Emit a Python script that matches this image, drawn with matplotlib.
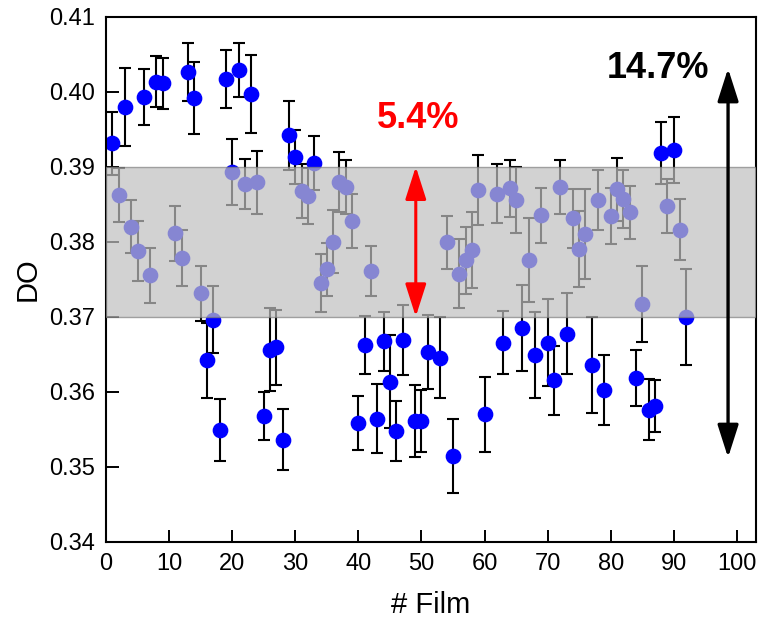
import matplotlib
matplotlib.use("Agg")
import matplotlib.pyplot as plt
from matplotlib.patches import FancyArrowPatch

plt.rcParams['font.family'] = ['Liberation Sans', 'DejaVu Sans']

film = [1, 2, 3, 4, 5, 6, 7, 8, 9, 11, 12, 13, 14, 15, 16, 17, 18, 19, 20, 21,
        22, 23, 24, 25, 26, 27, 28, 29, 30, 31, 32, 33, 34, 35, 36, 37, 38, 39, 40, 41,
        42, 43, 44, 45, 46, 47, 49, 50, 51, 53, 54, 55, 56, 57, 58, 59, 60, 62, 63, 64,
        65, 66, 67, 68, 69, 70, 71, 72, 73, 74, 75, 76, 77, 78, 79, 80, 81, 82, 83, 84,
        85, 86, 87, 88, 89, 90, 91, 92]
do_val = [0.3931, 0.3862, 0.3980, 0.3820, 0.3788, 0.3993, 0.3755, 0.4013, 0.4011, 0.3811,
          0.3778, 0.4026, 0.3992, 0.3731, 0.3642, 0.3696, 0.3549, 0.4017, 0.3893, 0.4029,
          0.3877, 0.3997, 0.3879, 0.3568, 0.3656, 0.3659, 0.3536, 0.3942, 0.3913, 0.3868,
          0.3861, 0.3905, 0.3745, 0.3763, 0.3800, 0.3879, 0.3873, 0.3828, 0.3558, 0.3662,
          0.3761, 0.3564, 0.3667, 0.3613, 0.3547, 0.3669, 0.3561, 0.3561, 0.3653, 0.3645,
          0.3799, 0.3514, 0.3757, 0.3775, 0.3789, 0.3869, 0.3570, 0.3864, 0.3665, 0.3871,
          0.3855, 0.3685, 0.3775, 0.3649, 0.3835, 0.3665, 0.3615, 0.3873, 0.3677, 0.3831,
          0.3790, 0.3810, 0.3636, 0.3856, 0.3602, 0.3834, 0.3870, 0.3857, 0.3839, 0.3618,
          0.3717, 0.3576, 0.3581, 0.3918, 0.3847, 0.3922, 0.3816, 0.3700]
do_err = [0.0042, 0.0036, 0.0052, 0.0035, 0.0040, 0.0037, 0.0037, 0.0034, 0.0034, 0.0037,
          0.0037, 0.0039, 0.0048, 0.0037, 0.0050, 0.0045, 0.0041, 0.0039, 0.0044, 0.0036,
          0.0033, 0.0052, 0.0042, 0.0032, 0.0055, 0.0050, 0.0041, 0.0046, 0.0036, 0.0036,
          0.0037, 0.0036, 0.0039, 0.0035, 0.0042, 0.0040, 0.0036, 0.0036, 0.0036, 0.0039,
          0.0033, 0.0046, 0.0039, 0.0062, 0.0040, 0.0047, 0.0048, 0.0041, 0.0049, 0.0054,
          0.0035, 0.0049, 0.0046, 0.0045, 0.0051, 0.0047, 0.0050, 0.0039, 0.0042, 0.0038,
          0.0044, 0.0057, 0.0056, 0.0057, 0.0037, 0.0058, 0.0046, 0.0036, 0.0054, 0.0039,
          0.0051, 0.0060, 0.0064, 0.0040, 0.0047, 0.0037, 0.0042, 0.0039, 0.0035, 0.0037,
          0.0051, 0.0041, 0.0035, 0.0041, 0.0036, 0.0044, 0.0041, 0.0064]

band_low, band_high = 0.37, 0.39
small_arrow = (49.1, 0.39, 0.37)
small_label = "5.4%"
big_arrow = (98.6, 0.4031, 0.3512)
big_label = "14.7%"

fig = plt.figure(figsize=(7.6, 6.21), dpi=100)
ax = fig.add_axes([0.1395, 0.128, 0.855, 0.845])

ax.errorbar(film, do_val, yerr=do_err, fmt='o', color='#0000ff', markersize=10.3,
            ecolor='black', elinewidth=1.5, capsize=4.5, capthick=1.5, zorder=2)

ax.axhspan(band_low, band_high, facecolor='#c0c0c0', alpha=0.7,
           edgecolor='#808080', linewidth=1.0, zorder=3)

arr1 = FancyArrowPatch((small_arrow[0], small_arrow[1]), (small_arrow[0], small_arrow[2]),
                       arrowstyle='<|-|>,head_length=1.0,head_width=0.32',
                       mutation_scale=20, color='#ff0000', linewidth=2.2,
                       shrinkA=0, shrinkB=0, zorder=5)
ax.add_patch(arr1)
ax.text(49.5, 0.3964, small_label, color='#ff0000', fontsize=26, fontweight='bold',
        ha='center', va='center', zorder=6)

arr2 = FancyArrowPatch((big_arrow[0], big_arrow[1]), (big_arrow[0], big_arrow[2]),
                       arrowstyle='<|-|>,head_length=1.0,head_width=0.32',
                       mutation_scale=20, color='black', linewidth=2.4,
                       shrinkA=0, shrinkB=0, zorder=5)
ax.add_patch(arr2)
ax.text(87.5, 0.4031, big_label, color='black', fontsize=26, fontweight='bold',
        ha='center', va='center', zorder=6)

ax.set_xlim(0, 103)
ax.set_ylim(0.34, 0.41)
ax.set_xticks(range(0, 101, 10))
ax.set_yticks([0.34, 0.35, 0.36, 0.37, 0.38, 0.39, 0.40, 0.41])
ax.set_yticklabels(['0.34', '0.35', '0.36', '0.37', '0.38', '0.39', '0.40', '0.41'])
ax.tick_params(direction='in', length=9, width=1.4, labelsize=17, pad=8,
               top=False, right=False)
for sp in ax.spines.values():
    sp.set_linewidth(1.5)

ax.set_xlabel('# Film', fontsize=21, labelpad=12)
ax.set_ylabel('DO', fontsize=21, labelpad=5)

fig.savefig('out.png', dpi=100)
